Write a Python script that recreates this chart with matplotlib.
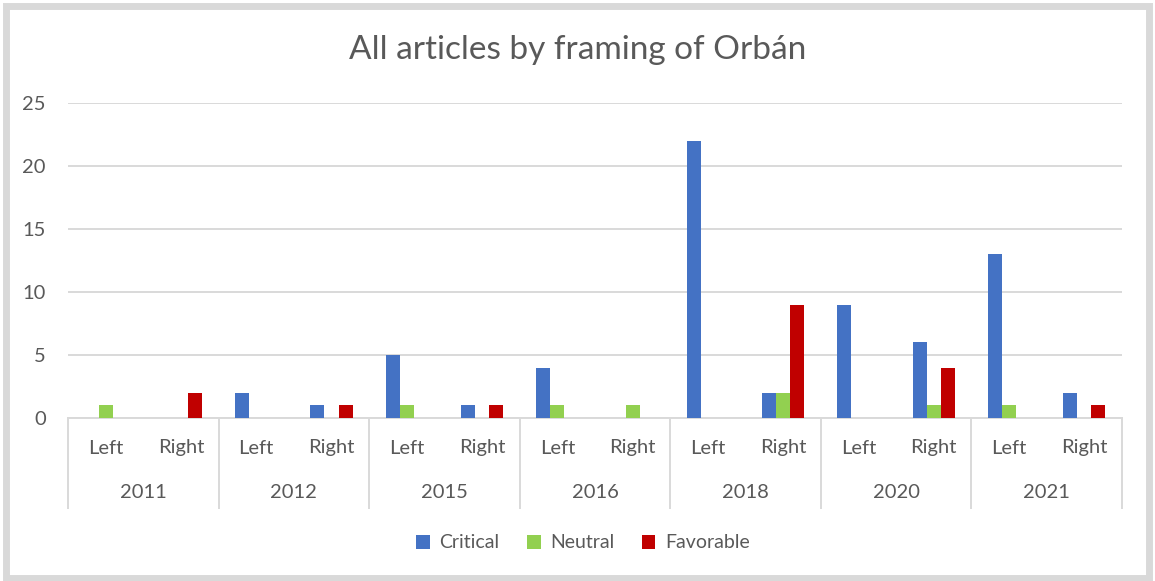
import numpy as np
import matplotlib
matplotlib.use("Agg")
import matplotlib.pyplot as plt
from matplotlib.patches import Rectangle

anos = ["2011", "2012", "2015", "2016", "2018", "2020", "2021"]
lados = ["Left", "Right"]
critical = [0, 0, 2, 1, 5, 1, 4, 0, 22, 2, 9, 6, 13, 2]
neutral = [1, 0, 0, 0, 1, 0, 1, 1, 0, 2, 0, 1, 1, 0]
favorable = [0, 2, 0, 1, 0, 1, 0, 0, 0, 9, 0, 4, 0, 1]
series = ["Critical", "Neutral", "Favorable"]
cores = ["#4472C4", "#92D050", "#C00000"]

texto = "#595959"
grade = "#d9d9d9"
plt.rcParams["font.family"] = ["Lato", "DejaVu Sans"]

fig = plt.figure(figsize=(11.55, 5.81), dpi=100)
fig.patches.append(Rectangle((0.005, 0.005), 0.99, 0.985, transform=fig.transFigure,
                             fill=False, edgecolor="#d9d9d9", linewidth=5))
ax = fig.add_axes([68 / 1155, 163 / 581, 1054 / 1155, 315 / 581])

x = np.arange(len(critical))
w = 0.186
for i, (vals, nome, cor) in enumerate(zip([critical, neutral, favorable], series, cores)):
    ax.bar(x + (i - 1) * w, vals, w, color=cor, label=nome, zorder=3)

ax.set_xlim(-0.5, len(critical) - 0.5)
ax.set_ylim(0, 25)
ax.set_yticks(range(0, 26, 5))
ax.yaxis.grid(True, color=grade, linewidth=1.4, zorder=0)
for s in ["top", "right", "left"]:
    ax.spines[s].set_visible(False)
ax.spines["bottom"].set_color(grade)
ax.spines["bottom"].set_linewidth(1.4)
ax.tick_params(axis="y", length=0, labelsize=14.5, labelcolor=texto, pad=16)
ax.tick_params(axis="x", length=0)
ax.set_xticks([])

trans = ax.get_xaxis_transform()
for k in range(len(critical)):
    ax.text(k, -30 / 315, lados[k % 2], transform=trans, ha="center", va="center",
            fontsize=14.5, color=texto)
for j, ano in enumerate(anos):
    ax.text(2 * j + 0.5, -74 / 315, ano, transform=trans, ha="center", va="center",
            fontsize=14.5, color=texto)
for j in range(len(anos) + 1):
    ax.plot([2 * j - 0.5, 2 * j - 0.5], [0, -90 / 315], transform=trans, color=grade,
            linewidth=1.4, clip_on=False)

fig.text(0.5, 1 - 50 / 581, "All articles by framing of Orbán", ha="center", va="center",
         fontsize=24, color=texto)
fig.legend(loc="center", bbox_to_anchor=(583 / 1155, 38 / 581), ncol=3, frameon=False,
           fontsize=14, labelcolor=texto, handlelength=0.7, handleheight=0.7,
           columnspacing=1.4, handletextpad=0.5)

fig.savefig("out.png", dpi=100)
